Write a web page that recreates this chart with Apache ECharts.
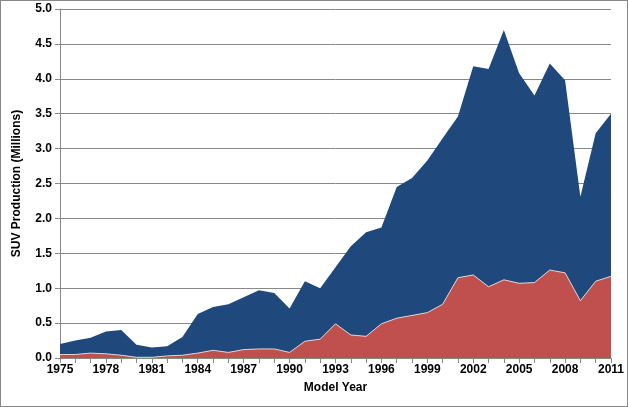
<!DOCTYPE html>
<html><head><meta charset="utf-8">
<script src="https://cdn.jsdelivr.net/npm/echarts@6/dist/echarts.min.js"></script>
<style>html,body{margin:0;background:#fff}#c{width:626px;height:405px;border:1px solid #888}</style>
</head><body><div id="c"></div>
<script>
var years = [];
for (var y = 1975; y <= 2011; y++) years.push(String(y));
var nonTruck = [0.05,0.05,0.07,0.06,0.04,0.01,0.01,0.03,0.04,0.07,0.11,0.08,0.12,0.13,0.13,0.08,0.24,0.27,0.49,0.33,0.31,0.49,0.57,0.61,0.65,0.77,1.15,1.19,1.02,1.12,1.07,1.08,1.26,1.22,0.82,1.10,1.17];
var truck = [0.15,0.20,0.22,0.32,0.36,0.18,0.14,0.14,0.26,0.56,0.62,0.69,0.75,0.84,0.80,0.63,0.86,0.73,0.81,1.27,1.49,1.38,1.88,1.97,2.18,2.38,2.31,2.99,3.12,3.58,3.01,2.68,2.96,2.76,1.49,2.12,2.33];

var chart = echarts.init(document.getElementById('c'));
var font = 'Liberation Sans, Arial, sans-serif';
chart.setOption({
  animation: false,
  grid: { left: 59, right: 16, top: 8, bottom: 48 },
  xAxis: { type: 'category', data: years, boundaryGap: false,
    name: 'Model Year', nameLocation: 'middle', nameGap: 24,
    nameTextStyle: { fontFamily: font, fontWeight: 'bold', fontSize: 12, color: '#000' },
    axisLine: { lineStyle: { color: '#888' } },
    axisTick: { show: true, interval: 0, lineStyle: { color: '#888' } },
    axisLabel: { interval: 2, fontFamily: font, fontWeight: 'bold', fontSize: 12, color: '#000', margin: 6 },
    splitLine: { show: false } },
  yAxis: { type: 'value', min: 0, max: 5, interval: 0.5,
    name: 'SUV Production (Millions)', nameLocation: 'middle', nameGap: 37,
    nameTextStyle: { fontFamily: font, fontWeight: 'bold', fontSize: 12, color: '#000' },
    axisLine: { show: true, lineStyle: { color: '#888' } },
    axisTick: { show: true, lineStyle: { color: '#888' } },
    axisLabel: { fontFamily: font, fontWeight: 'bold', fontSize: 12, color: '#000',
      formatter: function (v) { return v.toFixed(1); } },
    splitLine: { lineStyle: { color: '#888' } } },
  series: [
    { name: 'Non-Truck SUV', type: 'line', stack: 'a', data: nonTruck, symbol: 'none',
      lineStyle: { color: '#e0d0d0', width: 1 }, areaStyle: { color: '#C0504D', opacity: 1 } },
    { name: 'Truck SUV', type: 'line', stack: 'a', data: truck, symbol: 'none',
      lineStyle: { width: 0 }, areaStyle: { color: '#1F497D', opacity: 1 } }
  ],
  graphic: [
    { type: 'text', left: 435, top: 225, style: { text: 'Truck SUV', fill: '#fff', font: 'bold 19px "Open Sans", sans-serif' } },
    { type: 'text', left: 457, top: 318, style: { text: 'Non-Truck SUV', fill: '#000', font: 'bold 19px "Open Sans", sans-serif' } }
  ]
});
</script></body></html>
